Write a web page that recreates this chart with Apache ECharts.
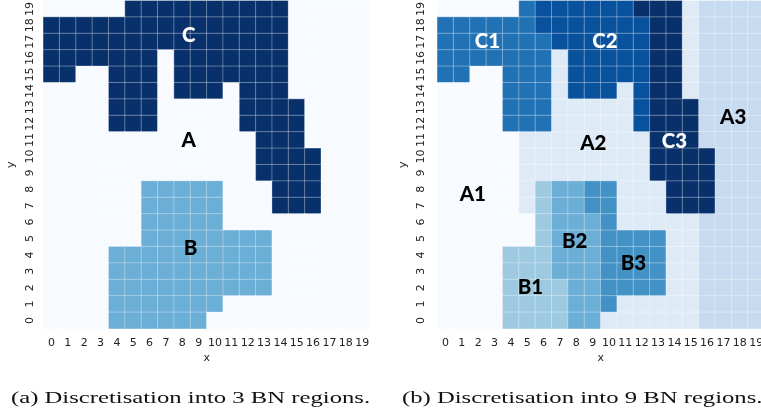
<!DOCTYPE html>
<html>
<head>
<meta charset="utf-8">
<script src="https://cdn.jsdelivr.net/npm/echarts@6/dist/echarts.min.js"></script>
<style>
  html, body { margin: 0; padding: 0; background: #fff; }
  #chart { width: 761px; height: 416px; }
</style>
</head>
<body>
<div id="chart"></div>
<script>
// Tick labels shared by both axes of both panels
const tickLabels = ['0','1','2','3','4','5','6','7','8','9','10','11','12','13','14','15','16','17','18','19'];

// Panel (a): 3 regions. One string per grid row, from y = 19 (top) down to y = 0;
// each character is the region index of the cell at x = 0..19.
const threeRegionNames = ['A', 'B', 'C'];
const threeRegionRows = [
  '00000222222222200000',
  '22222222222222200000',
  '22222222222222200000',
  '22222220222222200000',
  '22002220222222200000',
  '00002220222022200000',
  '00002220000022220000',
  '00002220000022220000',
  '00000000000002220000',
  '00000000000002222000',
  '00000000000002222000',
  '00000011111000222000',
  '00000011111000222000',
  '00000011111000000000',
  '00000011111111000000',
  '00001111111111000000',
  '00001111111111000000',
  '00001111111111000000',
  '00001111111000000000',
  '00001111110000000000'
];
// Region name anchors for panel (a): [name, x, y] in cell units
const threeRegionLabels = [
  ['C', 8.4, 17.4],
  ['A', 8.4, 11.0],
  ['B', 8.5, 4.4]
];

// Panel (b): 9 regions, same layout convention
const nineRegionNames = ['A1', 'A2', 'A3', 'B1', 'B2', 'B3', 'C1', 'C2', 'C3'];
const nineRegionRows = [
  '00000677777788812222',
  '66666677777778812222',
  '66666667777778812222',
  '66666661777778812222',
  '66006661777778812222',
  '00006661777178812222',
  '00006661111178882222',
  '00006661111178882222',
  '00000111111118882222',
  '00000111111118888222',
  '00000111111118888222',
  '00000134455111888222',
  '00000134455111888222',
  '00000034445111112222',
  '00000034445555112222',
  '00003334445555112222',
  '00003334445555112222',
  '00003333445555112222',
  '00003333445111112222',
  '00003333441111112222'
];
const nineRegionLabels = [
  ['C1', 2.56, 17.0],
  ['C2', 9.76, 17.0],
  ['C3', 14.0, 10.9],
  ['A1', 1.67, 7.7],
  ['A2', 9.04, 10.8],
  ['A3', 17.6, 12.4],
  ['B1', 5.2, 2.0],
  ['B2', 7.9, 4.8],
  ['B3', 11.5, 3.5]
];

const captionA = '(a) Discretisation into 3 BN regions.';
const captionB = '(b) Discretisation into 9 BN regions.';

// Sequential blue palette
const blues = ['#f7fbff', '#deebf7', '#c6dbef', '#9ecae1', '#6baed6', '#4292c6', '#2171b5', '#08519c', '#08306b'];

function cellsFromRows(rows) {
  const out = [];
  rows.forEach((row, k) => {
    const y = rows.length - 1 - k;
    for (let x = 0; x < row.length; x++) out.push([x, y, Number(row[x])]);
  });
  return out;
}

function labelPoints(labels) {
  return labels.map(([name, x, y]) => ({
    name: name,
    value: [x, y],
    label: { color: name.charAt(0) === 'C' ? '#ffffff' : '#000000' }
  }));
}

const tickFont = { fontFamily: 'DejaVu Sans', fontSize: 11, color: '#222' };

function catX(gridIndex) {
  return {
    type: 'category', gridIndex: gridIndex, data: tickLabels,
    axisLine: { show: false },
    axisTick: { show: true, alignWithLabel: true, length: 4, lineStyle: { color: '#333', width: 0.8 } },
    axisLabel: Object.assign({ interval: 0, margin: 8.5 }, tickFont),
    splitLine: { show: false },
    name: 'x', nameLocation: 'middle', nameGap: 24,
    nameTextStyle: { fontFamily: 'DejaVu Sans', fontSize: 11, color: '#222' }
  };
}
function catY(gridIndex, margin, nameGap) {
  return {
    type: 'category', gridIndex: gridIndex, data: tickLabels,
    axisLine: { show: false },
    axisTick: { show: true, alignWithLabel: true, length: 4, lineStyle: { color: '#333', width: 0.8 } },
    axisLabel: Object.assign({ interval: 0, rotate: 90, margin: margin }, tickFont),
    splitLine: { show: false },
    name: 'y', nameLocation: 'middle', nameGap: nameGap,
    nameTextStyle: { fontFamily: 'DejaVu Sans', fontSize: 11, color: '#222' }
  };
}
function valAxis(gridIndex) {
  return { type: 'value', gridIndex: gridIndex, min: -0.5, max: 19.5, show: false };
}

function heatSeries(xi, yi, rows) {
  return {
    type: 'heatmap', xAxisIndex: xi, yAxisIndex: yi,
    data: cellsFromRows(rows),
    itemStyle: { borderColor: 'rgba(255,255,255,0.55)', borderWidth: 0.6 },
    emphasis: { disabled: true },
    silent: true
  };
}
function labelSeries(xi, yi, labels) {
  return {
    type: 'scatter', xAxisIndex: xi, yAxisIndex: yi,
    data: labelPoints(labels),
    symbolSize: 1,
    itemStyle: { color: 'rgba(0,0,0,0)' },
    silent: true,
    z: 5,
    label: {
      show: true, position: 'inside', formatter: '{b}', opacity: 1,
      fontFamily: 'Lato', fontWeight: 900, fontSize: 20.5
    }
  };
}

const chart = echarts.init(document.getElementById('chart'), null, { renderer: 'canvas' });
chart.setOption({
  animation: false,
  backgroundColor: '#ffffff',
  grid: [
    { left: 43.3, top: 0.7, width: 327, height: 328, outerBoundsMode: 'none' },
    { left: 437.3, top: 0.7, width: 327, height: 328, outerBoundsMode: 'none' }
  ],
  xAxis: [catX(0), catX(1), valAxis(0), valAxis(1)],
  yAxis: [catY(0, 8, 27), catY(1, 10.5, 29), valAxis(0), valAxis(1)],
  visualMap: [
    { type: 'continuous', show: false, seriesIndex: 0, min: 0, max: threeRegionNames.length - 1, inRange: { color: blues } },
    { type: 'continuous', show: false, seriesIndex: 1, min: 0, max: nineRegionNames.length - 1, inRange: { color: blues } }
  ],
  series: [
    heatSeries(0, 0, threeRegionRows),
    heatSeries(1, 1, nineRegionRows),
    labelSeries(2, 2, threeRegionLabels),
    labelSeries(3, 3, nineRegionLabels)
  ],
  graphic: [
    { type: 'text', x: 11, y: 398, scaleX: 1.41, scaleY: 1, silent: true,
      style: { text: captionA, font: '17.5px "Liberation Serif"', fill: '#111', verticalAlign: 'middle', align: 'left' } },
    { type: 'text', x: 402, y: 398, scaleX: 1.41, scaleY: 1, silent: true,
      style: { text: captionB, font: '17.5px "Liberation Serif"', fill: '#111', verticalAlign: 'middle', align: 'left' } }
  ]
});
</script>
</body>
</html>
